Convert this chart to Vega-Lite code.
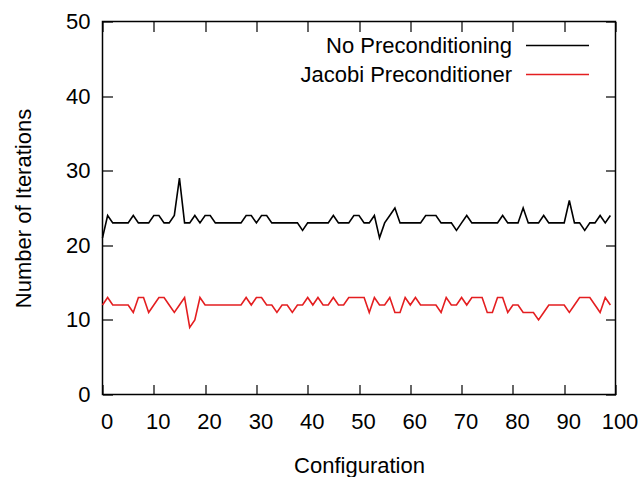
{
  "$schema": "https://vega.github.io/schema/vega-lite/v6.json",
  "width": 513,
  "height": 373,
  "autosize": {"type": "none"},
  "padding": {"left": 102.5, "top": 21.5, "right": 27.5, "bottom": 82.5},
  "config": {
    "font": "Liberation Sans",
    "view": {"stroke": "black", "strokeWidth": 1.5},
    "axis": {
      "domain": false,
      "grid": false,
      "ticks": true,
      "tickColor": "black",
      "tickWidth": 1.2,
      "tickSize": -10,
      "labelFlush": false,
      "labelColor": "black",
      "labelFont": "Liberation Sans",
      "labelFontSize": 22,
      "titleFont": "Liberation Sans",
      "titleFontSize": 22,
      "titleFontWeight": "normal",
      "titleColor": "black"
    },
    "legend": {
      "labelFont": "Liberation Sans",
      "labelFontSize": 22,
      "labelColor": "black",
      "labelLimit": 400
    }
  },
  "data": {"values": [
    {"c":0,"s":"No Preconditioning","it":21},{"c":1,"s":"No Preconditioning","it":24},{"c":2,"s":"No Preconditioning","it":23},{"c":3,"s":"No Preconditioning","it":23},{"c":4,"s":"No Preconditioning","it":23},{"c":5,"s":"No Preconditioning","it":23},{"c":6,"s":"No Preconditioning","it":24},{"c":7,"s":"No Preconditioning","it":23},{"c":8,"s":"No Preconditioning","it":23},{"c":9,"s":"No Preconditioning","it":23},
    {"c":10,"s":"No Preconditioning","it":24},{"c":11,"s":"No Preconditioning","it":24},{"c":12,"s":"No Preconditioning","it":23},{"c":13,"s":"No Preconditioning","it":23},{"c":14,"s":"No Preconditioning","it":24},{"c":15,"s":"No Preconditioning","it":29},{"c":16,"s":"No Preconditioning","it":23},{"c":17,"s":"No Preconditioning","it":23},{"c":18,"s":"No Preconditioning","it":24},{"c":19,"s":"No Preconditioning","it":23},
    {"c":20,"s":"No Preconditioning","it":24},{"c":21,"s":"No Preconditioning","it":24},{"c":22,"s":"No Preconditioning","it":23},{"c":23,"s":"No Preconditioning","it":23},{"c":24,"s":"No Preconditioning","it":23},{"c":25,"s":"No Preconditioning","it":23},{"c":26,"s":"No Preconditioning","it":23},{"c":27,"s":"No Preconditioning","it":23},{"c":28,"s":"No Preconditioning","it":24},{"c":29,"s":"No Preconditioning","it":24},
    {"c":30,"s":"No Preconditioning","it":23},{"c":31,"s":"No Preconditioning","it":24},{"c":32,"s":"No Preconditioning","it":24},{"c":33,"s":"No Preconditioning","it":23},{"c":34,"s":"No Preconditioning","it":23},{"c":35,"s":"No Preconditioning","it":23},{"c":36,"s":"No Preconditioning","it":23},{"c":37,"s":"No Preconditioning","it":23},{"c":38,"s":"No Preconditioning","it":23},{"c":39,"s":"No Preconditioning","it":22},
    {"c":40,"s":"No Preconditioning","it":23},{"c":41,"s":"No Preconditioning","it":23},{"c":42,"s":"No Preconditioning","it":23},{"c":43,"s":"No Preconditioning","it":23},{"c":44,"s":"No Preconditioning","it":23},{"c":45,"s":"No Preconditioning","it":24},{"c":46,"s":"No Preconditioning","it":23},{"c":47,"s":"No Preconditioning","it":23},{"c":48,"s":"No Preconditioning","it":23},{"c":49,"s":"No Preconditioning","it":24},
    {"c":50,"s":"No Preconditioning","it":24},{"c":51,"s":"No Preconditioning","it":23},{"c":52,"s":"No Preconditioning","it":23},{"c":53,"s":"No Preconditioning","it":24},{"c":54,"s":"No Preconditioning","it":21},{"c":55,"s":"No Preconditioning","it":23},{"c":56,"s":"No Preconditioning","it":24},{"c":57,"s":"No Preconditioning","it":25},{"c":58,"s":"No Preconditioning","it":23},{"c":59,"s":"No Preconditioning","it":23},
    {"c":60,"s":"No Preconditioning","it":23},{"c":61,"s":"No Preconditioning","it":23},{"c":62,"s":"No Preconditioning","it":23},{"c":63,"s":"No Preconditioning","it":24},{"c":64,"s":"No Preconditioning","it":24},{"c":65,"s":"No Preconditioning","it":24},{"c":66,"s":"No Preconditioning","it":23},{"c":67,"s":"No Preconditioning","it":23},{"c":68,"s":"No Preconditioning","it":23},{"c":69,"s":"No Preconditioning","it":22},
    {"c":70,"s":"No Preconditioning","it":23},{"c":71,"s":"No Preconditioning","it":24},{"c":72,"s":"No Preconditioning","it":23},{"c":73,"s":"No Preconditioning","it":23},{"c":74,"s":"No Preconditioning","it":23},{"c":75,"s":"No Preconditioning","it":23},{"c":76,"s":"No Preconditioning","it":23},{"c":77,"s":"No Preconditioning","it":23},{"c":78,"s":"No Preconditioning","it":24},{"c":79,"s":"No Preconditioning","it":23},
    {"c":80,"s":"No Preconditioning","it":23},{"c":81,"s":"No Preconditioning","it":23},{"c":82,"s":"No Preconditioning","it":25},{"c":83,"s":"No Preconditioning","it":23},{"c":84,"s":"No Preconditioning","it":23},{"c":85,"s":"No Preconditioning","it":23},{"c":86,"s":"No Preconditioning","it":24},{"c":87,"s":"No Preconditioning","it":23},{"c":88,"s":"No Preconditioning","it":23},{"c":89,"s":"No Preconditioning","it":23},
    {"c":90,"s":"No Preconditioning","it":23},{"c":91,"s":"No Preconditioning","it":26},{"c":92,"s":"No Preconditioning","it":23},{"c":93,"s":"No Preconditioning","it":23},{"c":94,"s":"No Preconditioning","it":22},{"c":95,"s":"No Preconditioning","it":23},{"c":96,"s":"No Preconditioning","it":23},{"c":97,"s":"No Preconditioning","it":24},{"c":98,"s":"No Preconditioning","it":23},{"c":99,"s":"No Preconditioning","it":24},
    {"c":0,"s":"Jacobi Preconditioner","it":12},{"c":1,"s":"Jacobi Preconditioner","it":13},{"c":2,"s":"Jacobi Preconditioner","it":12},{"c":3,"s":"Jacobi Preconditioner","it":12},{"c":4,"s":"Jacobi Preconditioner","it":12},{"c":5,"s":"Jacobi Preconditioner","it":12},{"c":6,"s":"Jacobi Preconditioner","it":11},{"c":7,"s":"Jacobi Preconditioner","it":13},{"c":8,"s":"Jacobi Preconditioner","it":13},{"c":9,"s":"Jacobi Preconditioner","it":11},
    {"c":10,"s":"Jacobi Preconditioner","it":12},{"c":11,"s":"Jacobi Preconditioner","it":13},{"c":12,"s":"Jacobi Preconditioner","it":13},{"c":13,"s":"Jacobi Preconditioner","it":12},{"c":14,"s":"Jacobi Preconditioner","it":11},{"c":15,"s":"Jacobi Preconditioner","it":12},{"c":16,"s":"Jacobi Preconditioner","it":13},{"c":17,"s":"Jacobi Preconditioner","it":9},{"c":18,"s":"Jacobi Preconditioner","it":10},{"c":19,"s":"Jacobi Preconditioner","it":13},
    {"c":20,"s":"Jacobi Preconditioner","it":12},{"c":21,"s":"Jacobi Preconditioner","it":12},{"c":22,"s":"Jacobi Preconditioner","it":12},{"c":23,"s":"Jacobi Preconditioner","it":12},{"c":24,"s":"Jacobi Preconditioner","it":12},{"c":25,"s":"Jacobi Preconditioner","it":12},{"c":26,"s":"Jacobi Preconditioner","it":12},{"c":27,"s":"Jacobi Preconditioner","it":12},{"c":28,"s":"Jacobi Preconditioner","it":13},{"c":29,"s":"Jacobi Preconditioner","it":12},
    {"c":30,"s":"Jacobi Preconditioner","it":13},{"c":31,"s":"Jacobi Preconditioner","it":13},{"c":32,"s":"Jacobi Preconditioner","it":12},{"c":33,"s":"Jacobi Preconditioner","it":12},{"c":34,"s":"Jacobi Preconditioner","it":11},{"c":35,"s":"Jacobi Preconditioner","it":12},{"c":36,"s":"Jacobi Preconditioner","it":12},{"c":37,"s":"Jacobi Preconditioner","it":11},{"c":38,"s":"Jacobi Preconditioner","it":12},{"c":39,"s":"Jacobi Preconditioner","it":12},
    {"c":40,"s":"Jacobi Preconditioner","it":13},{"c":41,"s":"Jacobi Preconditioner","it":12},{"c":42,"s":"Jacobi Preconditioner","it":13},{"c":43,"s":"Jacobi Preconditioner","it":12},{"c":44,"s":"Jacobi Preconditioner","it":12},{"c":45,"s":"Jacobi Preconditioner","it":13},{"c":46,"s":"Jacobi Preconditioner","it":12},{"c":47,"s":"Jacobi Preconditioner","it":12},{"c":48,"s":"Jacobi Preconditioner","it":13},{"c":49,"s":"Jacobi Preconditioner","it":13},
    {"c":50,"s":"Jacobi Preconditioner","it":13},{"c":51,"s":"Jacobi Preconditioner","it":13},{"c":52,"s":"Jacobi Preconditioner","it":11},{"c":53,"s":"Jacobi Preconditioner","it":13},{"c":54,"s":"Jacobi Preconditioner","it":12},{"c":55,"s":"Jacobi Preconditioner","it":12},{"c":56,"s":"Jacobi Preconditioner","it":13},{"c":57,"s":"Jacobi Preconditioner","it":11},{"c":58,"s":"Jacobi Preconditioner","it":11},{"c":59,"s":"Jacobi Preconditioner","it":13},
    {"c":60,"s":"Jacobi Preconditioner","it":12},{"c":61,"s":"Jacobi Preconditioner","it":13},{"c":62,"s":"Jacobi Preconditioner","it":12},{"c":63,"s":"Jacobi Preconditioner","it":12},{"c":64,"s":"Jacobi Preconditioner","it":12},{"c":65,"s":"Jacobi Preconditioner","it":12},{"c":66,"s":"Jacobi Preconditioner","it":11},{"c":67,"s":"Jacobi Preconditioner","it":13},{"c":68,"s":"Jacobi Preconditioner","it":12},{"c":69,"s":"Jacobi Preconditioner","it":12},
    {"c":70,"s":"Jacobi Preconditioner","it":13},{"c":71,"s":"Jacobi Preconditioner","it":12},{"c":72,"s":"Jacobi Preconditioner","it":13},{"c":73,"s":"Jacobi Preconditioner","it":13},{"c":74,"s":"Jacobi Preconditioner","it":13},{"c":75,"s":"Jacobi Preconditioner","it":11},{"c":76,"s":"Jacobi Preconditioner","it":11},{"c":77,"s":"Jacobi Preconditioner","it":13},{"c":78,"s":"Jacobi Preconditioner","it":13},{"c":79,"s":"Jacobi Preconditioner","it":11},
    {"c":80,"s":"Jacobi Preconditioner","it":12},{"c":81,"s":"Jacobi Preconditioner","it":12},{"c":82,"s":"Jacobi Preconditioner","it":11},{"c":83,"s":"Jacobi Preconditioner","it":11},{"c":84,"s":"Jacobi Preconditioner","it":11},{"c":85,"s":"Jacobi Preconditioner","it":10},{"c":86,"s":"Jacobi Preconditioner","it":11},{"c":87,"s":"Jacobi Preconditioner","it":12},{"c":88,"s":"Jacobi Preconditioner","it":12},{"c":89,"s":"Jacobi Preconditioner","it":12},
    {"c":90,"s":"Jacobi Preconditioner","it":12},{"c":91,"s":"Jacobi Preconditioner","it":11},{"c":92,"s":"Jacobi Preconditioner","it":12},{"c":93,"s":"Jacobi Preconditioner","it":13},{"c":94,"s":"Jacobi Preconditioner","it":13},{"c":95,"s":"Jacobi Preconditioner","it":13},{"c":96,"s":"Jacobi Preconditioner","it":12},{"c":97,"s":"Jacobi Preconditioner","it":11},{"c":98,"s":"Jacobi Preconditioner","it":13},{"c":99,"s":"Jacobi Preconditioner","it":12}
  ]},
  "layer": [
    {
      "mark": {"type": "line", "strokeWidth": 1.6},
      "encoding": {
        "x": {"field": "c", "type": "quantitative", "scale": {"domain": [0, 100], "nice": false},
              "axis": {"orient": "bottom", "values": [0,10,20,30,40,50,60,70,80,90,100], "title": "Configuration", "labelPadding": 26.5, "labelOffset": 4, "titlePadding": 23}},
        "y": {"field": "it", "type": "quantitative", "scale": {"domain": [0, 50], "nice": false},
              "axis": {"orient": "left", "values": [0,10,20,30,40,50], "title": "Number of Iterations", "labelPadding": 22.5, "titlePadding": 30}},
        "color": {"field": "s", "type": "nominal",
                  "scale": {"domain": ["No Preconditioning", "Jacobi Preconditioner"], "range": ["#000000", "#e41e20"]},
                  "legend": {"title": null, "orient": "none", "legendX": 443.5, "legendY": 12.5, "padding": 0, "symbolType": "M-3,0H3", "symbolSize": 441, "symbolStrokeWidth": 1.6, "labelAlign": "right", "labelOffset": -57, "rowPadding": 6}}
      }
    },
    {
      "mark": {"type": "line", "opacity": 0},
      "encoding": {
        "x": {"field": "c", "type": "quantitative", "scale": {"domain": [0, 100], "nice": false},
              "axis": {"orient": "top", "values": [0,10,20,30,40,50,60,70,80,90,100], "labels": false, "title": null}},
        "y": {"field": "it", "type": "quantitative", "scale": {"domain": [0, 50], "nice": false},
              "axis": {"orient": "right", "values": [0,10,20,30,40,50], "labels": false, "title": null}},
        "detail": {"field": "s"}
      }
    }
  ],
  "resolve": {"axis": {"x": "independent", "y": "independent"}}
}
